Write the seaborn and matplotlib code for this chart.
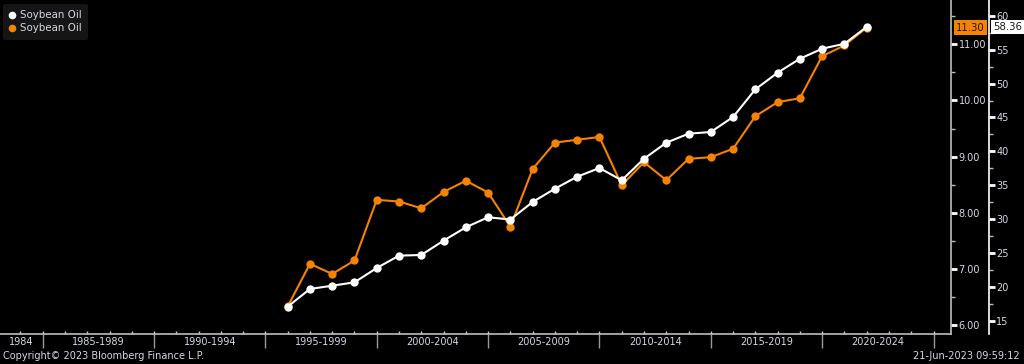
import numpy as np
import pandas as pd
import matplotlib
matplotlib.use("Agg")
import matplotlib.pyplot as plt
import seaborn as sns
from matplotlib.lines import Line2D

# ---- data ----
years = list(range(1996, 2023))
white_vals = [17.11, 19.72, 20.20, 20.70, 22.81, 24.63, 24.73, 26.84, 28.81, 30.29,
              29.96, 32.54, 34.50, 36.27, 37.55, 35.74, 38.92, 41.28, 42.61, 42.86,
              45.07, 49.15, 51.60, 53.66, 55.14, 55.87, 58.36]
orange_vals = [6.33, 7.09, 6.91, 7.15, 8.23, 8.20, 8.08, 8.37, 8.57, 8.36,
               7.75, 8.78, 9.25, 9.30, 9.35, 8.49, 8.90, 8.58, 8.96, 8.99,
               9.14, 9.72, 9.97, 10.04, 10.79, 10.98, 11.30]
series_names = ["Soybean Oil", "Soybean Oil"]
period_bounds = [1985, 1990, 1995, 2000, 2005, 2010, 2015, 2020, 2025]
period_labels = ["1984", "1985-1989", "1990-1994", "1995-1999", "2000-2004",
                 "2005-2009", "2010-2014", "2015-2019", "2020-2024"]
inner_ticks = [6.0, 7.0, 8.0, 9.0, 10.0, 11.0]
outer_ticks = [15, 20, 25, 30, 35, 40, 45, 50, 55, 60]
copyright_text = "Copyright\u00a9 2023 Bloomberg Finance L.P."
stamp_text = "21-Jun-2023 09:59:12"

ORANGE = "#f58200"
WHITE = "#ffffff"
LABEL = "#d4d8e4"
SPINE = "#bdbdbd"

sns.set_style("dark", {"axes.facecolor": "black", "figure.facecolor": "black"})
plt.rcParams["font.family"] = ["DejaVu Sans"]

W, H, DPI = 1024, 364, 100
fig = plt.figure(figsize=(W / DPI, H / DPI), dpi=DPI, facecolor="black")
ax_right_px = 951
ax_bottom_px = 334
ax = fig.add_axes([0, (H - ax_bottom_px) / H, ax_right_px / W, ax_bottom_px / H])
ax.set_facecolor("black")

df_o = pd.DataFrame({"year": years, "value": orange_vals})
df_w = pd.DataFrame({"year": years, "value": white_vals})

sns.lineplot(data=df_o, x="year", y="value", ax=ax, color=ORANGE, marker="o",
             markersize=6, markeredgewidth=0, linewidth=1.5, legend=False)

ax2 = ax.twinx()
ax2.set_facecolor("none")
sns.lineplot(data=df_w, x="year", y="value", ax=ax2, color=WHITE, marker="o",
             markersize=6, markeredgewidth=0, linewidth=1.5, legend=False)

# x axis
xlim0 = 1985 - 42.7 / 22.27
xlim1 = xlim0 + ax_right_px / 22.27
ax.set_xlim(xlim0, xlim1)
ax.set_ylim(5.84, 11.79)
ax2.set_ylim(13.08, 62.32)

starts = [xlim0] + period_bounds[:-1]
centers = [(a + b) / 2 for a, b in zip(starts, period_bounds)]
ax.set_xticks(centers)
ax.set_xticklabels(period_labels)
ax.set_xticks(period_bounds, minor=True)
ax.tick_params(axis="x", which="major", length=0, pad=2.5, labelsize=7, labelcolor=LABEL,
               bottom=True)
ax.tick_params(axis="x", which="minor", length=10, width=1, color="#9a9a9a", direction="out",
               bottom=True)
ax.set_xlabel("")

sec = ax.secondary_xaxis("bottom")
sec.set_xticks(list(range(1984, 2026)))
sec.set_xticklabels([])
sec.tick_params(axis="x", length=2.5, width=1, direction="in", color="#cfcfcf", bottom=True)
sec.spines["bottom"].set_visible(False)

# inner y axis (orange) on the right
ax.yaxis.tick_right()
ax.set_yticks(inner_ticks)
ax.set_yticklabels([f"{v:.2f}" for v in inner_ticks])
ax.set_yticks(np.arange(6.5, 11.6, 1.0), minor=True)
ax.tick_params(axis="y", which="major", length=4, width=2, color=WHITE, direction="out",
               pad=1.5, labelsize=7, labelcolor=LABEL, left=False, right=True)
ax.tick_params(axis="y", which="minor", length=3, width=1, color="#bbbbbb", direction="out",
               left=False, right=True)
ax.set_ylabel("")

# outer y axis (white)
ax2.spines["right"].set_position(("outward", 37.7 * 72 / DPI))
ax2.set_yticks(outer_ticks)
ax2.set_yticklabels([str(v) for v in outer_ticks])
ax2.set_yticks(np.arange(17.5, 61, 5), minor=True)
ax2.tick_params(axis="y", which="major", length=4, width=2, color=WHITE, direction="out",
                pad=1.5, labelsize=7, labelcolor=LABEL, right=True)
ax2.tick_params(axis="y", which="minor", length=3, width=1, color="#bbbbbb", direction="out",
                right=True)
ax2.set_ylabel("")

for a in (ax, ax2):
    a.grid(False)
    for s in ("top", "left"):
        a.spines[s].set_visible(False)
ax.spines["right"].set_visible(True)
ax.spines["right"].set_color(SPINE)
ax.spines["right"].set_linewidth(1.2)
ax.spines["bottom"].set_visible(True)
ax.spines["bottom"].set_color(SPINE)
ax.spines["bottom"].set_linewidth(1.2)
ax2.spines["bottom"].set_visible(False)
ax2.spines["right"].set_visible(True)
ax2.spines["right"].set_color(WHITE)
ax2.spines["right"].set_linewidth(1.2)

# last value tags
ax.annotate(f"{orange_vals[-1]:.2f}", xy=(1, orange_vals[-1]),
            xycoords=ax.get_yaxis_transform(), xytext=(3.5, 0), textcoords="offset points",
            ha="left", va="center", fontsize=7.3, color="#1a1a1a",
            bbox=dict(boxstyle="square,pad=0.22", fc=ORANGE, ec="none"), annotation_clip=False)
ax2.annotate(f"{white_vals[-1]:.2f}", xy=(1, white_vals[-1]),
             xycoords=ax2.get_yaxis_transform(), xytext=(37.7 * 0.72 + 3, 0),
             textcoords="offset points", ha="left", va="center", fontsize=7.3, color="#1a1a1a",
             bbox=dict(boxstyle="square,pad=0.22", fc=WHITE, ec="none"), annotation_clip=False)

# legend
handles = [Line2D([], [], linestyle="none", marker="o", markersize=5.5, color=WHITE, markeredgewidth=0),
           Line2D([], [], linestyle="none", marker="o", markersize=5.5, color=ORANGE, markeredgewidth=0)]
leg = ax2.legend(handles, series_names, loc="upper left", bbox_to_anchor=(3 / W, 1 - 4 / H),
                 bbox_transform=fig.transFigure, frameon=True, fontsize=7.4, handlelength=0.6,
                 handletextpad=0.45, borderpad=0.6, labelspacing=0.32, borderaxespad=0)
leg.get_frame().set_facecolor("#151515")
leg.get_frame().set_edgecolor("none")
leg.get_frame().set_alpha(1)
for t in leg.get_texts():
    t.set_color(LABEL)

fig.text(3 / W, 1 - 356 / H, copyright_text, ha="left", va="center", fontsize=7, color=LABEL)
fig.text(1 - 4 / W, 1 - 356 / H, stamp_text, ha="right", va="center", fontsize=7, color=LABEL)

fig.savefig("out.png", dpi=DPI, facecolor="black")
